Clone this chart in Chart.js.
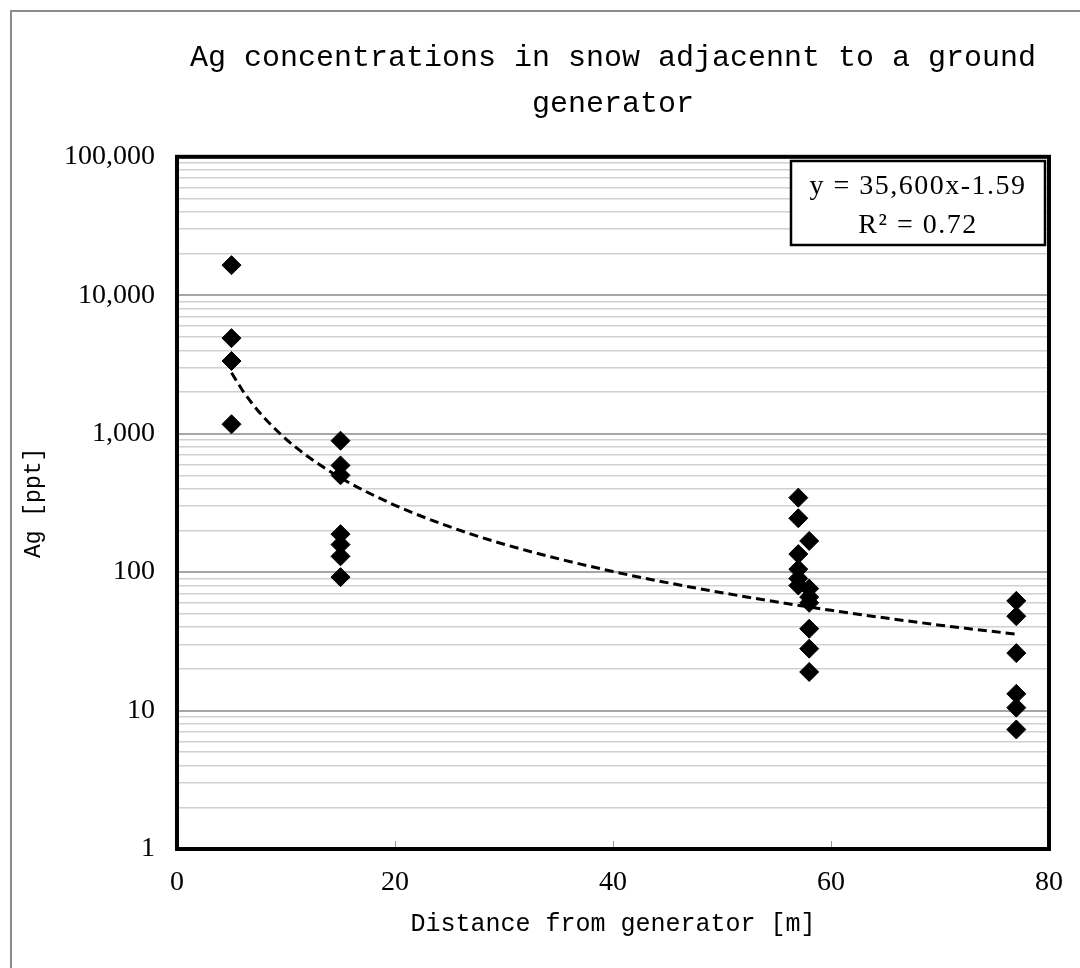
<!DOCTYPE html>
<html><head><meta charset="utf-8">
<script src="https://cdn.jsdelivr.net/npm/chart.js@4.4.0/dist/chart.umd.min.js"></script>
<style>html,body{margin:0;padding:0;background:#fff;overflow:hidden}</style>
</head><body>
<canvas id="c" width="1080" height="968"></canvas>
<script>
// ---- data ----
const distanceM = [5,5,5,5, 15,15,15,15,15,15,15, 57,57,57,57,57,57, 58,58,58,58,58,58,58, 77,77,77,77,77,77];
const agPpt     = [16500,4900,3350,1170, 890,590,500,188,158,130,92, 345,245,135,105,90,80, 168,76,66,60,39,28,19, 62,48,26,13.2,10.5,7.3];
const trendX = [5,6,7,8,10,12,15,20,25,30,40,50,60,70,77];
const trendY = [2755,2060,1610,1305,915,685,480,304,213,159,101,71,53,41.4,35.6];
const yMajorValues = [1,10,100,1000,10000,100000];
const yTickLabels  = ['1','10','100','1,000','10,000','100,000'];
const xTickValues  = [0,20,40,60,80];
const titleLines = ['Ag concentrations in snow adjacennt to a ground','generator'];
const xTitle = 'Distance from generator [m]';
const yTitle = 'Ag [ppt]';
const eqLines = ['y = 35,600x-1.59','R\u00B2 = 0.72'];

const yGridValues = [];
yMajorValues.forEach((d,i)=>{ if(i<yMajorValues.length-1){ for(let k=1;k<10;k++) yGridValues.push(d*k);} else yGridValues.push(d); });

const framePlugin = {
  id:'frame',
  beforeDraw(chart){
    const c = chart.ctx;
    c.save();
    c.fillStyle='#fff'; c.fillRect(0,0,chart.width,chart.height);
    c.strokeStyle='#8c8c8c'; c.lineWidth=2;
    c.beginPath(); c.moveTo(11,968); c.lineTo(11,11); c.lineTo(1080,11); c.stroke();
    c.restore();
  },
  afterDatasetsDraw(chart){
    const c = chart.ctx, a = chart.chartArea, xs = chart.scales.x;
    c.save();
    c.strokeStyle='#999'; c.lineWidth=1;
    xTickValues.forEach(v=>{ const px = Math.round(xs.getPixelForValue(v))+0.5; c.beginPath(); c.moveTo(px,a.bottom); c.lineTo(px,a.bottom-8); c.stroke(); });
    c.strokeStyle='#000'; c.lineWidth=4;
    c.strokeRect(a.left, a.top, a.right-a.left, a.bottom-a.top);
    const bx=791, by=161, bw=254, bh=84;
    c.fillStyle='#fff'; c.fillRect(bx,by,bw,bh);
    c.strokeStyle='#000'; c.lineWidth=2.5; c.strokeRect(bx,by,bw,bh);
    c.fillStyle='#000'; c.font='28px "Liberation Serif"'; c.textAlign='center'; c.textBaseline='middle';
    if ('letterSpacing' in c) c.letterSpacing='1.5px';
    c.fillText(eqLines[0], bx+bw/2, 187);
    c.fillText(eqLines[1], bx+bw/2, 226);
    c.restore();
  }
};

new Chart(document.getElementById('c'), {
  type:'scatter',
  data:{datasets:[
    {label:'Ag', data: distanceM.map((x,i)=>({x:x, y:agPpt[i]})), pointStyle:'rectRot', pointRadius:9.5, pointHoverRadius:9.5,
     backgroundColor:'#000', borderColor:'#000', borderWidth:1, showLine:false, order:1},
    {label:'Power trend', type:'line', data: trendX.map((x,i)=>({x:x, y:trendY[i]})), borderColor:'#000', borderWidth:3,
     borderDash:[9,5], pointRadius:0, fill:false, cubicInterpolationMode:'monotone', showLine:true, order:2}
  ]},
  options:{
    responsive:false, animation:false, devicePixelRatio:1,
    layout:{padding:{left:20, right:31, top:0, bottom:29}},
    plugins:{
      legend:{display:false}, tooltip:{enabled:false},
      title:{display:true, text:titleLines, fullSize:false, color:'#000',
        font:{family:'"Liberation Mono"', size:30, weight:'normal', lineHeight:1.53}, padding:{top:35,bottom:30}}
    },
    scales:{
      x:{type:'linear', min:0, max:80,
        afterBuildTicks(s){ s.ticks = xTickValues.map(v=>({value:v})); },
        afterFit(s){ s.height = 90; },
        ticks:{color:'#000', font:{family:'"Liberation Serif"', size:28}, padding:17, maxRotation:0},
        grid:{display:true, drawOnChartArea:false, drawTicks:false},
        border:{display:false},
        title:{display:true, text:xTitle, color:'#000', font:{family:'"Liberation Mono"', size:25}, padding:{top:0,bottom:0}}
      },
      y:{type:'logarithmic', min:1, max:100000,
        afterBuildTicks(s){ s.ticks = yGridValues.map(v=>({value:v, major: yMajorValues.includes(v)})); },
        afterFit(s){ s.width = 157; },
        ticks:{color:'#000', font:{family:'"Liberation Serif"', size:28}, padding:22, autoSkip:false,
          callback(v){ const i = yMajorValues.indexOf(v); return i>=0 ? yTickLabels[i] : ''; }},
        grid:{drawTicks:false,
          color(ctx){ return yMajorValues.includes(ctx.tick.value) ? '#a6a6a6' : '#d0d0d0'; },
          lineWidth(ctx){ return yMajorValues.includes(ctx.tick.value) ? 2 : 1.5; }},
        border:{display:false},
        title:{display:true, text:yTitle, color:'#000', font:{family:'"Liberation Mono"', size:23}, padding:{top:0,bottom:0}}
      }
    }
  },
  plugins:[framePlugin]
});
</script>
</body></html>
